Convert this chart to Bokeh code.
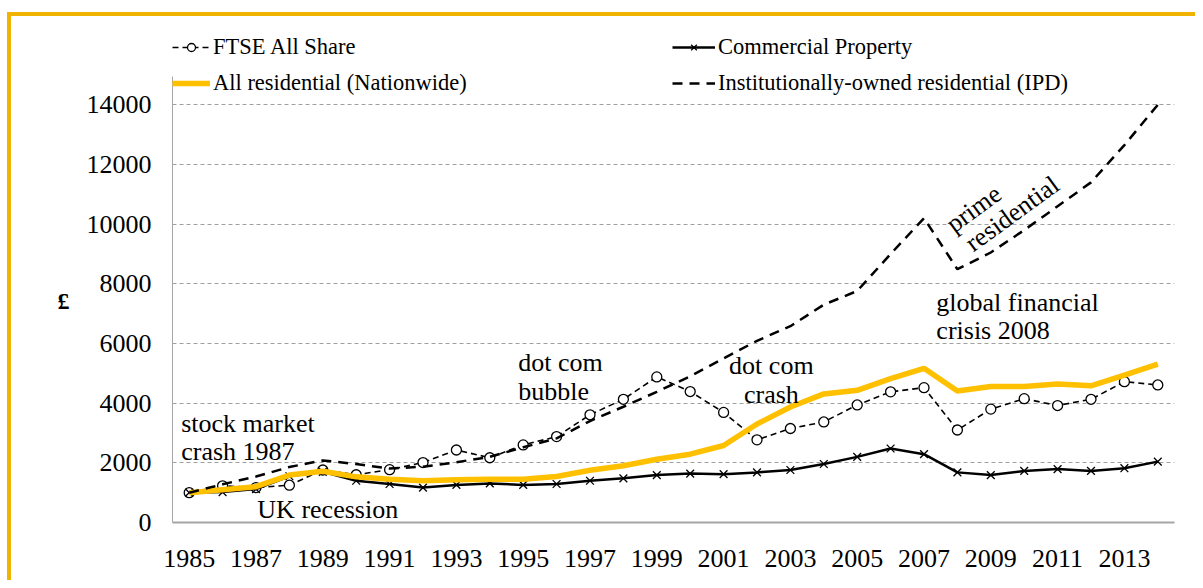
from bokeh.plotting import figure
from bokeh.models import Range1d, FixedTicker, Legend, LegendItem, Label
from bokeh.embed import file_html
from bokeh.resources import INLINE

# ---------------- data ----------------
years = list(range(1985, 2015))
ftse = [1000, 1230, 1170, 1250, 1760, 1600, 1770, 2010, 2430, 2170,
        2600, 2880, 3610, 4130, 4880, 4390, 3690, 2770, 3150, 3370,
        3940, 4380, 4520, 3100, 3800, 4150, 3920, 4130, 4720, 4610]
commercial = [1000, 1020, 1120, 1550, 1700, 1400, 1290, 1170, 1260, 1310,
              1260, 1290, 1400, 1480, 1590, 1640, 1620, 1680, 1760, 1960,
              2200, 2480, 2290, 1680, 1590, 1730, 1790, 1730, 1820, 2040]
nationwide = [1000, 1100, 1200, 1590, 1720, 1530, 1450, 1400, 1430, 1450,
              1450, 1540, 1750, 1900, 2120, 2290, 2580, 3300, 3870, 4310,
              4430, 4820, 5170, 4410, 4560, 4560, 4640, 4580, 4940, 5310]
ipd = [1000, 1280, 1540, 1860, 2080, 1960, 1810, 1870, 2020, 2200,
       2520, 2820, 3400, 3880, 4380, 4900, 5500, 6090, 6580, 7300,
       7760, 9000, 10200, 8490, 9050, 9800, 10600, 11400, 12650, 14000]

series_names = ["FTSE All Share", "Commercial Property",
                "All residential (Nationwide)",
                "Institutionally-owned residential (IPD)"]
x_ticks = list(range(1985, 2014, 2))
x_tick_labels = [str(y) for y in x_ticks]
y_ticks = list(range(0, 14001, 2000))
y_label = "£"

# annotation texts
notes = ["stock market", "crash 1987", "UK recession", "dot com", "bubble",
         "dot com", "crash", "global financial", "crisis 2008",
         "prime", "residential"]

FONT = "'Liberation Serif', 'Times New Roman', serif"
GOLD = "#FFC000"
FRAME_GOLD = "#F0B400"

p = figure(width=1195, height=580, output_backend="svg", toolbar_location=None,
           x_range=Range1d(1984.5, 2014.5), y_range=Range1d(0, 16826),
           min_border_left=172, min_border_right=21,
           min_border_top=20, min_border_bottom=58,
           styles={
               "background-color": "white",
               "background-image": f"linear-gradient({FRAME_GOLD}, {FRAME_GOLD}), "
                                   f"linear-gradient({FRAME_GOLD}, {FRAME_GOLD})",
               "background-size": "4px 2000px, 3000px 4px",
               "background-position": "7px 12px, 7px 12px",
               "background-repeat": "no-repeat",
           })
p.outline_line_color = None
p.background_fill_color = "white"
p.border_fill_color = None

# grid
p.xgrid.visible = False
p.ygrid.ticker = FixedTicker(ticks=y_ticks)
p.ygrid.grid_line_color = "#A0A0A0"
p.ygrid.grid_line_dash = "4 3"
p.ygrid.grid_line_width = 1

# axes
for ax in (p.xaxis[0], p.yaxis[0]):
    ax.axis_line_color = "#A6A6A6"
    ax.major_tick_in = 0
    ax.major_tick_out = 0
    ax.minor_tick_in = 0
    ax.minor_tick_out = 0
    ax.major_label_text_font = FONT
    ax.major_label_text_font_size = "26px"
    ax.major_label_text_color = "black"
p.xaxis.axis_line_width = 2
p.yaxis.axis_line_width = 1
p.xaxis.ticker = FixedTicker(ticks=x_ticks)
p.xaxis.major_label_overrides = {t: l for t, l in zip(x_ticks, x_tick_labels)}
p.xaxis.major_label_standoff = 27
p.yaxis.ticker = FixedTicker(ticks=y_ticks)
p.yaxis.major_label_standoff = 21
p.yaxis.bounds = (0, 14950)
p.yaxis.axis_label = "\n" + y_label
p.yaxis.axis_label_text_font = FONT
p.yaxis.axis_label_text_font_size = "24px"
p.yaxis.axis_label_text_font_style = "bold"
p.yaxis.axis_label_text_color = "black"
p.yaxis.axis_label_text_line_height = 2.3
p.yaxis.axis_label_standoff = 14
try:
    p.yaxis[0].axis_label_orientation = "horizontal"
except Exception:
    pass

# series
l_ftse = p.line(years, ftse, line_color="black", line_width=1.6, line_dash="6 4")
s_ftse = p.scatter(years, ftse, marker="circle", size=10, fill_color="white",
                   line_color="black", line_width=1.3)
l_com = p.line(years, commercial, line_color="black", line_width=2.5)
s_com = p.scatter(years, commercial, marker="x", size=11, line_color="black",
                  line_width=1.3)
l_nat = p.line(years, nationwide, line_color=GOLD, line_width=5.5)
l_ipd = p.line(years, ipd, line_color="black", line_width=2.5, line_dash="10 7")

# legends
def make_legend(items, loc, gw):
    return Legend(items=items, location=loc, orientation="vertical",
                  label_text_font=FONT, label_text_font_size="22.5px",
                  label_text_color="black", glyph_width=gw, glyph_height=20,
                  label_height=20, label_standoff=3, spacing=10, padding=0,
                  margin=0, border_line_alpha=0, background_fill_alpha=0)

leg1 = make_legend([LegendItem(label=series_names[0], renderers=[l_ftse, s_ftse]),
                    LegendItem(label=series_names[2], renderers=[l_nat])],
                   (0, 426), 38)
leg2 = make_legend([LegendItem(label=series_names[1], renderers=[l_com, s_com]),
                    LegendItem(label=series_names[3], renderers=[l_ipd])],
                   (500, 426), 43)
p.add_layout(leg1, "center")
p.add_layout(leg2, "center")

# annotations
def note(text, x, y, align="left", angle=0):
    p.add_layout(Label(x=x, y=y, text=text, text_font=FONT, text_font_size="26px",
                       text_align=align, text_baseline="middle",
                       text_color="black", angle=angle, angle_units="deg"))

note(notes[0], 1984.76, 3308)
note(notes[1], 1984.76, 2370)
note(notes[2], 1987.04, 426)
note(notes[3], 1994.85, 5373)
note(notes[4], 1994.85, 4398)
note(notes[5], 2002.43, 5263, align="center")
note(notes[6], 2002.43, 4301, align="center")
note(notes[7], 2007.37, 7384)
note(notes[8], 2007.37, 6436)
note(notes[9], 2008.49, 10515, align="center", angle=36)
note(notes[10], 2009.64, 10348, align="center", angle=36)

open("out.html", "w").write(file_html(p, INLINE))
